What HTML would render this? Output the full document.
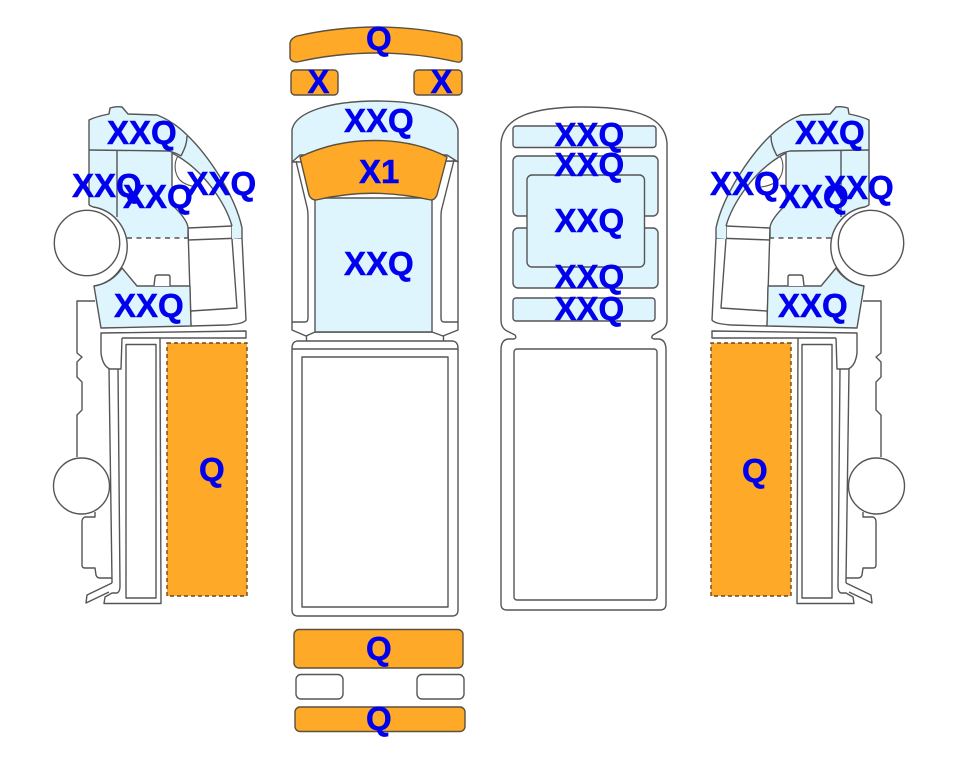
<!DOCTYPE html>
<html><head><meta charset="utf-8">
<style>
html,body{margin:0;padding:0;background:#fff;width:963px;height:768px;overflow:hidden}
svg{display:block}
text{font-family:"Liberation Sans",Arial,sans-serif;font-weight:bold;font-size:33px;fill:#0000ee;stroke:#0000ee;stroke-width:.5}
.s{fill:none;stroke:#555;stroke-width:1.4;stroke-linejoin:round}
.w{fill:#fff;stroke:#555;stroke-width:1.4;stroke-linejoin:round}
.b{fill:#def5fd;stroke:#555;stroke-width:1.4;stroke-linejoin:round}
.o{fill:#ffa928;stroke:#5a5040;stroke-width:1.4;stroke-linejoin:round}
</style></head><body>
<svg width="963" height="768" viewBox="0 0 963 768" xmlns="http://www.w3.org/2000/svg">
<defs>
<g id="side">
  <!-- lower cab outline -->
  <path class="s" d="M242,238 L246,320 C244,323 238,324 227,325 L191,326"/>
  <path class="s" d="M232,226 L232,239 L237,308 L191,311"/>
  <path class="s" d="M188,228 L232,226"/>
  <path class="s" d="M188,240 L242,238"/>
  <path class="s" d="M188,228 L191,326"/>
  <!-- upper blue -->
  <path fill="#def5fd" stroke="none" d="M89,120 C95,117 104,115 109,114 L110,108 Q116,106 122,107 L128,114 L157,115 C170,120 180,128 187,135 C208,155 235,195 242,228 L242,238 L232,239 L232,226 C226,205 205,170 172,153 L172,205 C180,212 188,222 188,228 L188,238 L127,238 A40,40 0 0 0 93,207 L89,205 Z"/>
  <path class="s" d="M89,205 L89,120 C95,117 104,115 109,114 L110,108 Q116,106 122,107 L128,114 L157,115 C170,120 180,128 187,135 C208,155 235,195 242,228 L242,238"/>
  <path class="s" d="M232,226 C226,205 205,170 172,153 L172,205 C180,212 188,222 188,228 L188,238"/>
  <path class="s" d="M89,205 L93,207"/>
  <path class="s" d="M178,156 C174,162 174,172 179,179 C183,184 190,186 197,187" style="stroke-width:1.1"/>
  <path class="s" d="M89,150 L168,151 C173,152 178,154 181,156"/>
  <path class="s" d="M187,136 C187,143 185,148 181,156"/>
  <path class="s" d="M117,150 L117,217"/>
  <path d="M127,238 L188,238" fill="none" stroke="#555" stroke-width="1.4" stroke-dasharray="5 4.5"/>
  <!-- lower blue -->
  <path class="b" d="M94,286 A40,40 0 0 0 122,268 L137,286 L190,286 L191,326 L101,328 Z"/>
  <path class="w" d="M154,286 L155,277 Q155,275 158,275 L168,275 Q170,275 170,277 L170,286"/>
  <path class="s" d="M93,207 A40,40 0 0 1 94,286"/>
  <circle class="w" cx="87" cy="243" r="32.700"/>
  <!-- rear body -->
  <path class="s" d="M95,301 L77,301 L77,353 L82,357 L77,362 L77,377 L82,382 L82,410 L77,415 L77,457"/>
  <path class="s" d="M95,512 L95,517 L85,517 Q82,518 82,522 L82,565 Q82,568 85,568 L95,568 L96,575 Q97,578 100,578 L112,578"/>
  <circle class="w" cx="81.500" cy="486" r="28"/>
  <!-- bumper/bed -->
  <path class="s" d="M122,338 L246,338 L246,331 L101,333 L101,353 C102,361 105,367 110,369 L121,369 L122,338"/>
  <path class="s" d="M109,369 L112,581 L112,583"/>
  <path class="s" d="M118,369 L120,586 Q120,592 117,593 L112,593 L105,597 L104,603.500 L161,603.500 L160,338"/>
  <path class="s" d="M112,583 L87,595 L86,603 L109,592"/>
  <rect class="s" x="126" y="344.500" width="30" height="253.500"/>
  <rect x="167" y="343" width="80" height="253" fill="#ffa928" stroke="#6b4a20" stroke-width="1.4" stroke-dasharray="4 3"/>
</g>
</defs>

<rect width="963" height="768" fill="#fff"/>

<use href="#side"/>
<use href="#side" transform="translate(958,0) scale(-1,1)"/>

<!-- Centre truck -->
<path class="o" d="M297,36 C350,24 405,24 457,36 Q462,38 462,43 L462,58 Q462,63 457,62 C405,50 350,50 297,62 Q291,62 290,58 L290,43 Q291,38 297,36 Z"/>
<rect class="o" x="291" y="70" width="47" height="25" rx="4"/>
<rect class="o" x="414" y="70" width="48" height="25" rx="4"/>

<path class="w" d="M292,162 L292,322 L292,330 L306,336 L315,332 L432,332 L443,336 L458,330 L458,322 L458,161 Z"/>
<path class="s" d="M296,161 L307,207 Q308,211 308,217 L308,318 Q308,322 305,322 L292,322"/>
<path class="s" d="M454,160 L442,208 Q441,211 441,217 L441,318 Q441,322 444,322 L458,322"/>
<path class="b" d="M292,162 L292,130 C295,112 330,101 377,101 C425,101 455,112 458,130 L458,162 L447,155 L300,155 Z"/>
<path class="b" d="M315,198 L315,332 L432,332 L432,198 Z"/>
<path class="o" d="M300,157 C345,135 405,135 447,157 L437,195 Q435,200 431,200 C390,191 355,191 316,200 Q311,200 309,195 Z"/>
<path class="s" d="M306.500,336 L306.500,341 M443.500,336 L443.500,341"/>
<path class="s" d="M297,341 L453,341 Q458,342 458,348 L458,610 Q458,616 452,616 L298,616 Q292,616 292,610 L292,348 Q292,342 297,341 Z"/>
<path class="s" d="M292,349 L458,349"/>
<rect class="s" x="302" y="357" width="146" height="250"/>

<rect class="o" x="294" y="629.500" width="169" height="38.500" rx="5"/>
<rect class="w" x="296" y="674.500" width="47" height="24.500" rx="5"/>
<rect class="w" x="417" y="674.500" width="47" height="24.500" rx="5"/>
<rect class="o" x="295" y="707" width="170" height="24.500" rx="5"/>

<!-- Top view truck -->
<path class="s" d="M501,143 C503,118 530,107 583,107 C640,107 665,118 667,143 L667,320 Q667,328 660,331 L653,335 Q650,338 654,339 L659,339 Q666,340 666,350 L666,604 Q666,610 660,610 L507,610 Q501,610 501,604 L501,350 Q501,340 508,339 L514,339 Q517,338 515,335 L507,331 Q501,328 501,320 Z"/>
<rect class="w" x="514" y="349" width="143" height="251" rx="3"/>
<rect class="b" x="513" y="126" width="143" height="21.500" rx="3"/>
<rect class="b" x="513" y="156" width="145" height="60" rx="5"/>
<rect class="b" x="513" y="228" width="145" height="60" rx="5"/>
<rect class="b" x="527" y="175" width="117.500" height="92" rx="5"/>
<rect class="b" x="513" y="298" width="142" height="23" rx="3"/>

<!-- Labels -->
<text x="107" y="144">XXQ</text>
<text x="72" y="197">XXQ</text>
<text x="123" y="208">XXQ</text>
<text x="186.500" y="195">XXQ</text>
<text x="114" y="317">XXQ</text>
<text x="199" y="481">Q</text>

<text x="366" y="50">Q</text>
<text x="307.500" y="93">X</text>
<text x="430.500" y="93">X</text>
<text x="344" y="132">XXQ</text>
<text x="359" y="183">X1</text>
<text x="344" y="275">XXQ</text>
<text x="366" y="660">Q</text>
<text x="366" y="730">Q</text>

<text x="554.500" y="146">XXQ</text>
<text x="554.500" y="176">XXQ</text>
<text x="554.500" y="232">XXQ</text>
<text x="554.500" y="288">XXQ</text>
<text x="554.500" y="320">XXQ</text>

<text x="795" y="144">XXQ</text>
<text x="710" y="195">XXQ</text>
<text x="779" y="208">XXQ</text>
<text x="824" y="199">XXQ</text>
<text x="778" y="317">XXQ</text>
<text x="742" y="482">Q</text>
</svg>
</body></html>
